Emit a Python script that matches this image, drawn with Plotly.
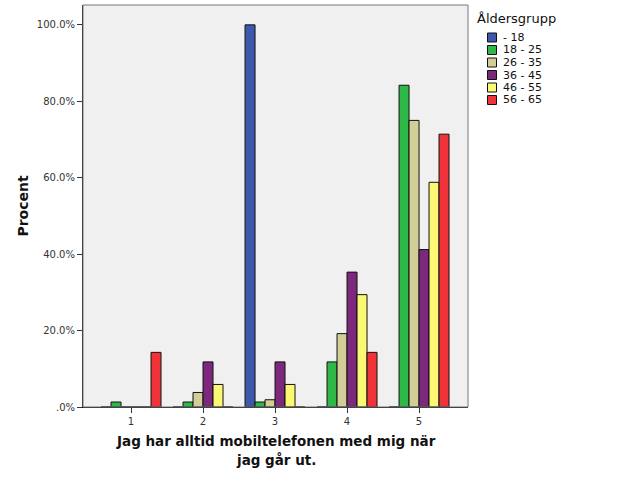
import plotly.graph_objects as go

categories = ["1", "2", "3", "4", "5"]
groups = ["- 18", "18 - 25", "26 - 35", "36 - 45", "46 - 55", "56 - 65"]
values = {
    "- 18":    [0.0, 0.0, 100.0, 0.0, 0.0],
    "18 - 25": [1.3, 1.3, 1.3, 11.8, 84.2],
    "26 - 35": [0.0, 3.8, 1.9, 19.2, 75.0],
    "36 - 45": [0.0, 11.8, 11.8, 35.3, 41.2],
    "46 - 55": [0.0, 5.9, 5.9, 29.4, 58.8],
    "56 - 65": [14.3, 0.0, 0.0, 14.3, 71.4],
}
colors = ["#3E58AC", "#2EB848", "#D3CE97", "#7C287D", "#FBF873", "#EF3338"]
y_ticks = [0, 20, 40, 60, 80, 100]
y_ticktext = [".0%", "20.0%", "40.0%", "60.0%", "80.0%", "100.0%"]
x_title_lines = ["Jag har alltid mobiltelefonen med mig när", "jag går ut."]

fig = go.Figure()
for g, c in zip(groups, colors):
    fig.add_trace(go.Bar(
        x=categories, y=values[g], name=g,
        marker=dict(color=c, line=dict(color="#111111", width=1)),
        showlegend=False,
    ))

W, H = 626, 501
L, R, T, B = 83, 468, 5, 407

fig.update_layout(
    width=W, height=H,
    margin=dict(l=L, r=W - R, t=T, b=H - B),
    paper_bgcolor="white",
    plot_bgcolor="#F0F0F0",
    barmode="group",
    bargap=0.167,
    bargroupgap=0,
    font=dict(family="DejaVu Sans", color="#222222"),
    xaxis=dict(
        type="category", range=[-0.667, 4.68],
        showline=True, linecolor="#111111", linewidth=1,
        ticks="outside", ticklen=5, tickcolor="#333333",
        tickfont=dict(size=10, color="#333333"),
        showgrid=False, zeroline=False,
    ),
    yaxis=dict(
        range=[0, 105.2],
        tickvals=y_ticks, ticktext=y_ticktext,
        showline=True, linecolor="#111111", linewidth=1,
        ticks="outside", ticklen=5, tickcolor="#333333",
        tickfont=dict(size=10, color="#333333"),
        showgrid=False, zeroline=False,
        title=dict(text="<b>Procent</b>", font=dict(size=14, color="#111111"), standoff=4),
    ),
)

# plot frame (top/right in gray)
fig.add_shape(type="rect", xref="paper", yref="paper", x0=0, y0=0, x1=1, y1=1,
              line=dict(color="#777777", width=1), layer="above")

def px_to_paper_x(px):
    return (px - L) / (R - L)

def px_to_paper_y(py):
    return (B - py) / (B - T)

# x-axis title as two lines
for i, line in enumerate(x_title_lines):
    fig.add_annotation(xref="paper", yref="paper", x=px_to_paper_x(276), y=px_to_paper_y(441 + i * 19),
                       text="<b>" + line + "</b>", showarrow=False, xanchor="center", yanchor="middle",
                       font=dict(size=13.5, color="#111111"))

# manual legend
fig.add_annotation(xref="paper", yref="paper", x=px_to_paper_x(475), y=px_to_paper_y(19),
                   text="Åldersgrupp", showarrow=False, xanchor="left", yanchor="middle",
                   font=dict(size=13, color="#111111"))
for i, (g, c) in enumerate(zip(groups, colors)):
    cy = 37.5 + i * 12.5
    fig.add_shape(type="rect", xref="paper", yref="paper",
                  x0=px_to_paper_x(487.5), x1=px_to_paper_x(496.5),
                  y0=px_to_paper_y(cy + 4.5), y1=px_to_paper_y(cy - 4.5),
                  fillcolor=c, line=dict(color="#111111", width=1))
    fig.add_annotation(xref="paper", yref="paper", x=px_to_paper_x(501), y=px_to_paper_y(cy),
                       text=g, showarrow=False, xanchor="left", yanchor="middle",
                       font=dict(size=11, color="#111111"))

fig.write_html("out.html")
